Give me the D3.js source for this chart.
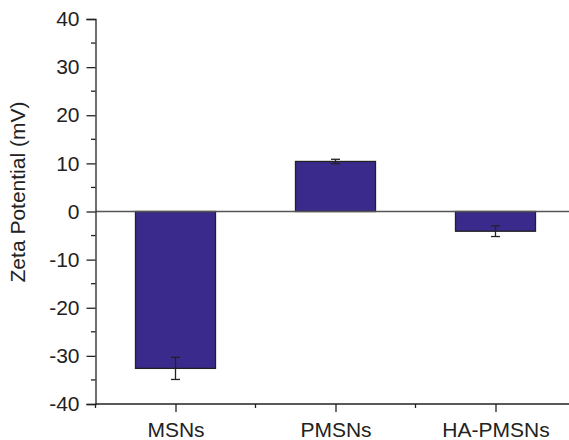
<!DOCTYPE html>
<html>
<head>
<meta charset="utf-8">
<script src="https://cdn.jsdelivr.net/npm/d3@7"></script>
<style>
  html, body { margin: 0; padding: 0; background: #fff; }
  svg { display: block; }
  text { font-family: "Liberation Sans", Arial, Helvetica, sans-serif; fill: #222; }
</style>
</head>
<body>
<svg id="chart" width="569" height="440"></svg>
<script>
const categories = ["MSNs", "PMSNs", "HA-PMSNs"];
const values = [-32.6, 10.4, -4.1];
const errors = [2.3, 0.45, 1.1];
const yTicks = [-40, -30, -20, -10, 0, 10, 20, 30, 40];
const yTitle = "Zeta Potential (mV)";

const W = 569, H = 440;
const FS = 21;
const svg = d3.select("#chart");

const x = d3.scaleLinear().domain([0.5, 3.5]).range([95.5, 575.5]);
const y = d3.scaleLinear().domain([-40, 40]).range([404, 19]);

const barW = x(1.25) - x(0.75);

// Bars
svg.append("g").selectAll("rect")
  .data(values)
  .join("rect")
  .attr("x", (d, i) => x(i + 1) - barW / 2)
  .attr("width", barW)
  .attr("y", d => y(Math.max(0, d)))
  .attr("height", d => Math.abs(y(d) - y(0)))
  .attr("fill", "#3a2a8c")
  .attr("stroke", "#222")
  .attr("stroke-width", 1.3);

// Zero line
svg.append("line")
  .attr("x1", x(0.5)).attr("x2", W)
  .attr("y1", y(0)).attr("y2", y(0))
  .attr("stroke", "#555").attr("stroke-width", 1.4);

// Error bars
const eb = svg.append("g").attr("stroke", "#222").attr("stroke-width", 1.3);
values.forEach((v, i) => {
  const cx = x(i + 1), e = errors[i];
  eb.append("line").attr("x1", cx).attr("x2", cx).attr("y1", y(v - e)).attr("y2", y(v + e));
  eb.append("line").attr("x1", cx - 4.5).attr("x2", cx + 4.5).attr("y1", y(v - e)).attr("y2", y(v - e));
  eb.append("line").attr("x1", cx - 4.5).attr("x2", cx + 4.5).attr("y1", y(v + e)).attr("y2", y(v + e));
});

// Y axis
const yAxis = d3.axisLeft(y).tickValues(yTicks).tickSize(9).tickPadding(7).tickFormat(d => String(d));
const gy = svg.append("g").attr("transform", `translate(${x(0.5)},0)`).call(yAxis);
gy.select(".domain").attr("stroke", "#222").attr("stroke-width", 1.3);
gy.selectAll(".tick line").attr("stroke", "#222").attr("stroke-width", 1.3);
gy.selectAll(".tick text").attr("font-size", FS).style("font-family", '"Liberation Sans", Arial, sans-serif').attr("fill", "#222");
const yMinor = d3.range(-35, 40, 10);
svg.append("g").selectAll("line").data(yMinor).join("line")
  .attr("x1", x(0.5) - 4.5).attr("x2", x(0.5))
  .attr("y1", d => y(d)).attr("y2", d => y(d))
  .attr("stroke", "#222").attr("stroke-width", 1.3);

// X axis
svg.append("line")
  .attr("x1", x(0.5)).attr("x2", W)
  .attr("y1", y(-40)).attr("y2", y(-40))
  .attr("stroke", "#222").attr("stroke-width", 1.3);
const gx = svg.append("g").attr("transform", `translate(0,${y(-40)})`)
  .call(d3.axisBottom(x).tickValues([1, 2, 3]).tickSize(8).tickPadding(10).tickFormat((d) => categories[d - 1]));
gx.select(".domain").remove();
gx.selectAll(".tick line").attr("stroke", "#222").attr("stroke-width", 1.3);
gx.selectAll(".tick text").attr("font-size", FS).style("font-family", '"Liberation Sans", Arial, sans-serif').attr("fill", "#222");
svg.append("g").selectAll("line").data([0.5, 1.5, 2.5, 3.5]).join("line")
  .attr("x1", d => x(d)).attr("x2", d => x(d))
  .attr("y1", y(-40)).attr("y2", y(-40) + 4)
  .attr("stroke", "#222").attr("stroke-width", 1.3);

// Y title
svg.append("text")
  .attr("transform", `translate(25,192) rotate(-90)`)
  .attr("text-anchor", "middle")
  .attr("font-size", FS)
  .text(yTitle);
</script>
</body>
</html>
